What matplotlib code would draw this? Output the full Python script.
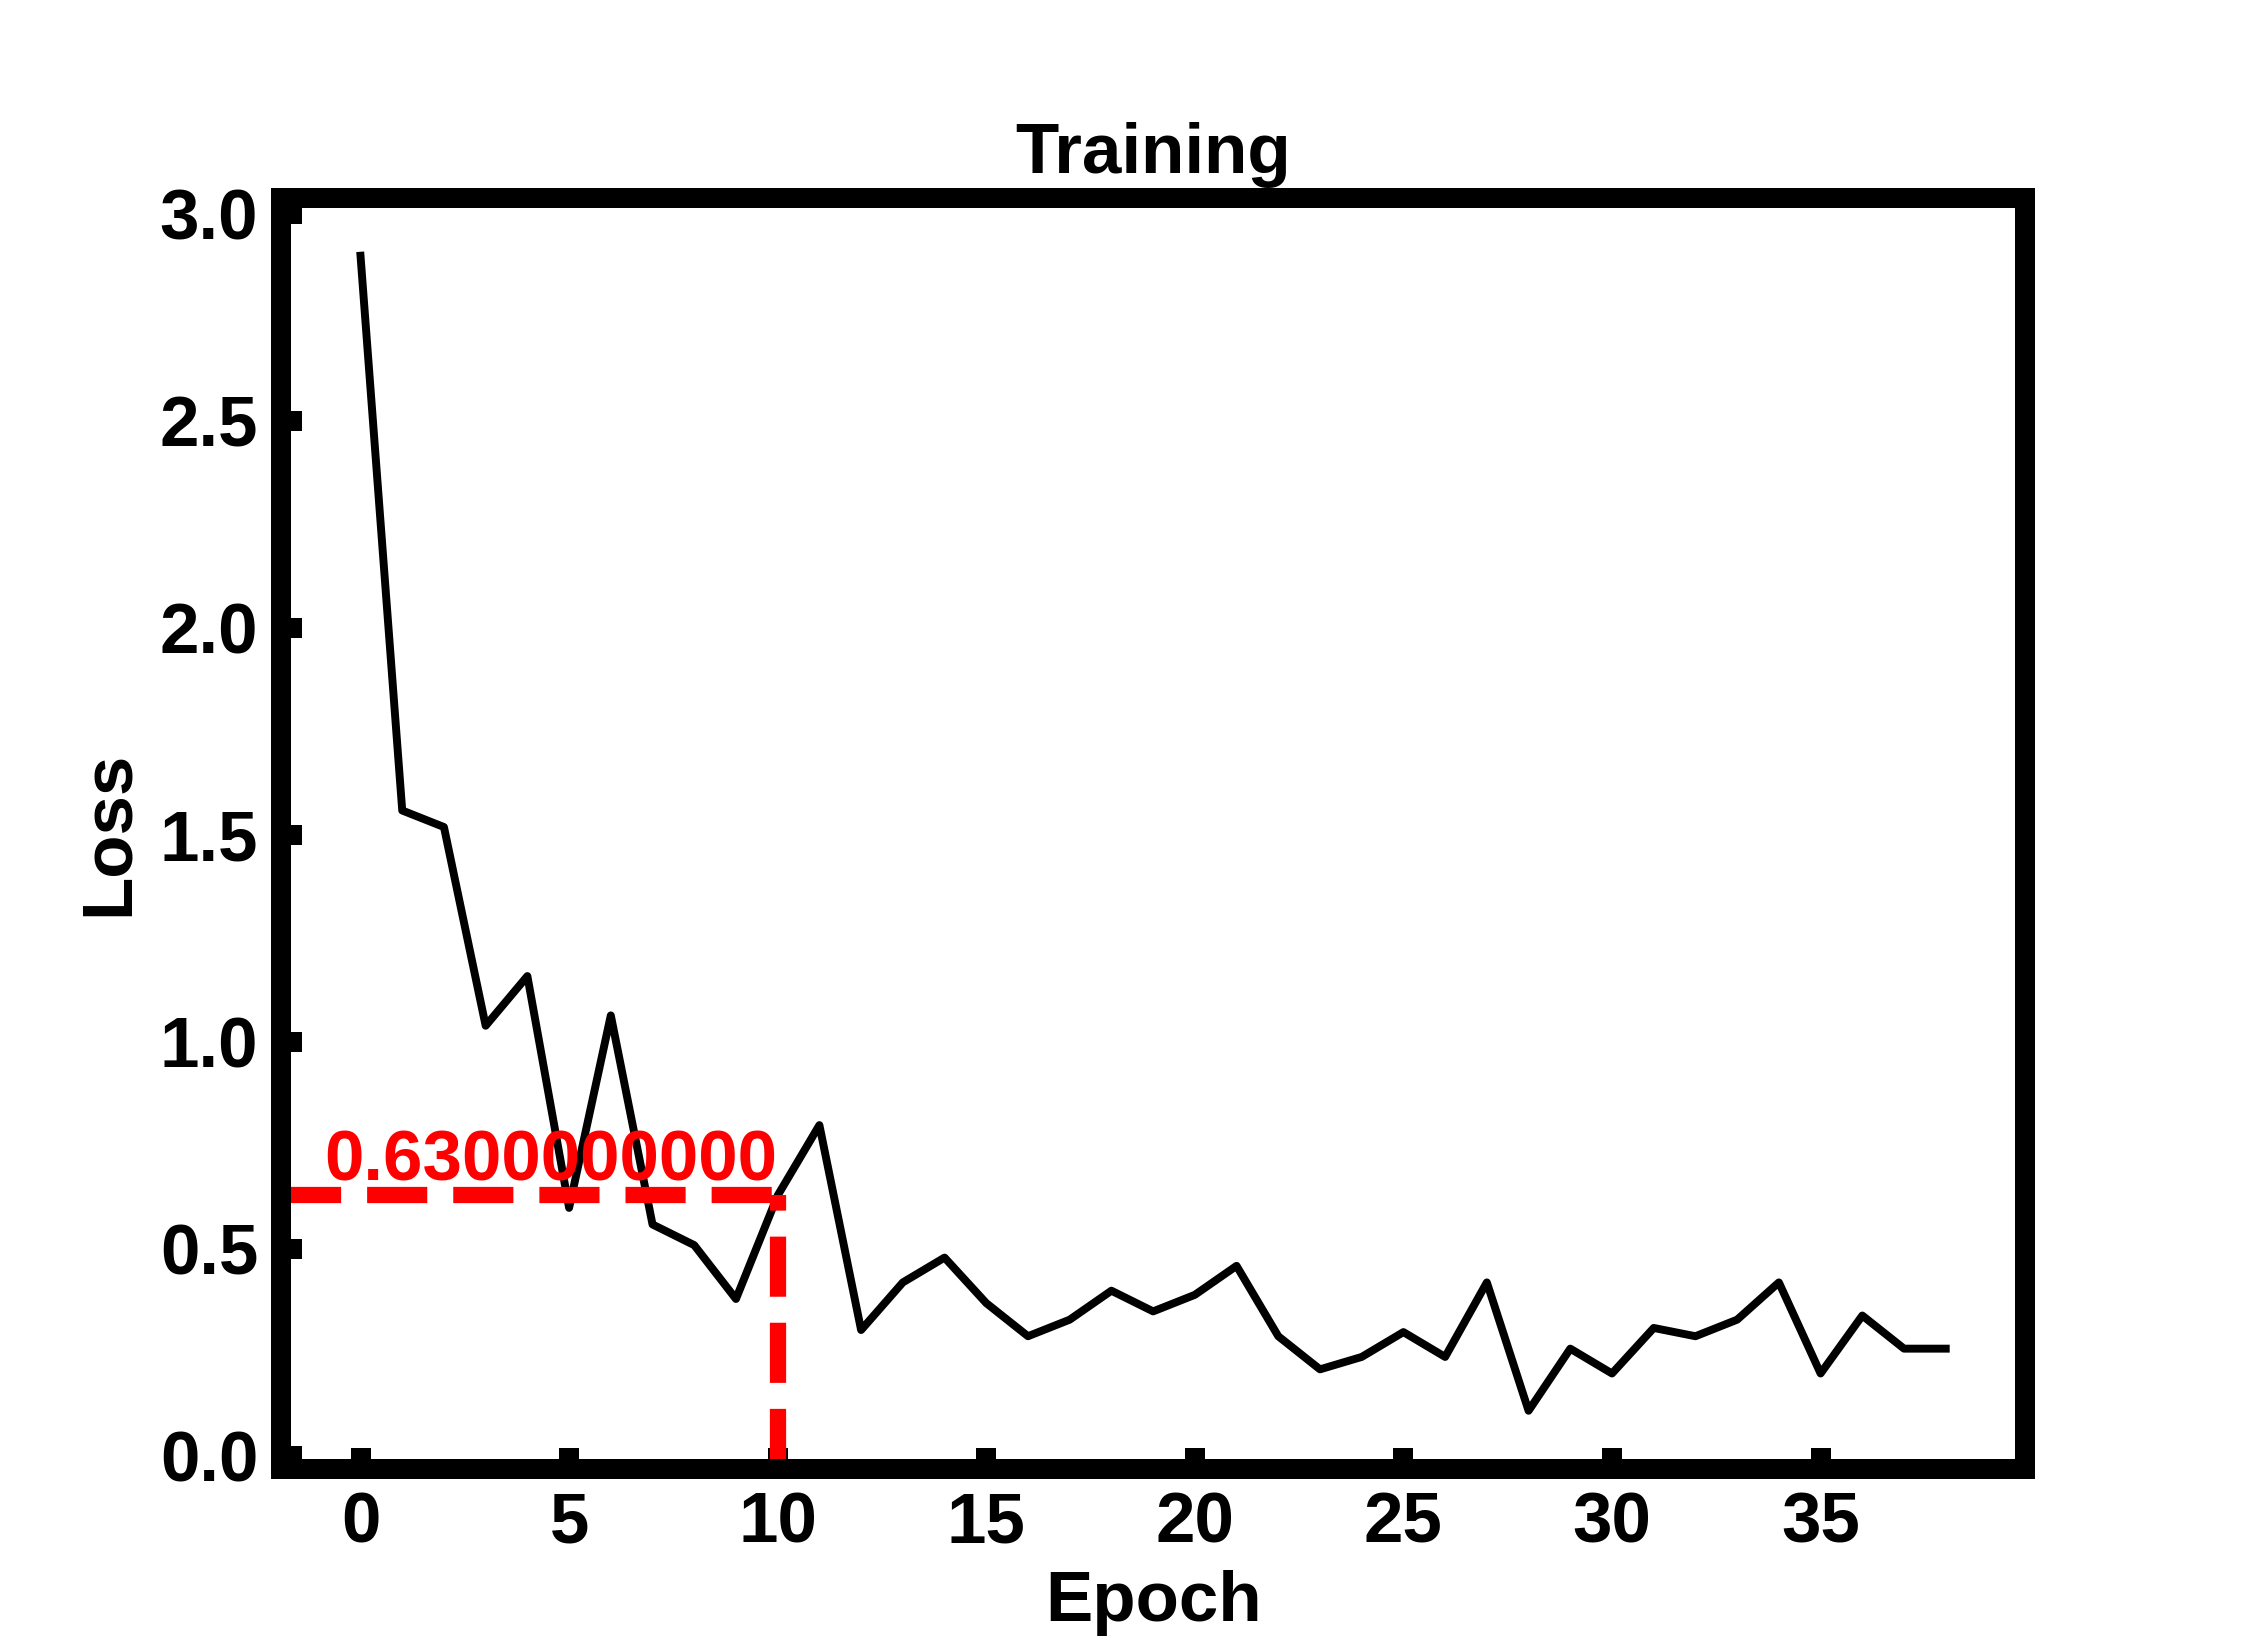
import numpy as np
import matplotlib
matplotlib.use('Agg')
from matplotlib import pyplot as plt
from matplotlib.ticker import MultipleLocator

# loss per epoch
epochs = list(range(39))
loss = [2.90, 1.56, 1.52, 1.04, 1.16, 0.60, 1.065, 0.56, 0.51, 0.38,
        0.63, 0.80, 0.305, 0.42, 0.48, 0.37, 0.29, 0.33, 0.40, 0.35,
        0.39, 0.46, 0.29, 0.21, 0.24, 0.30, 0.24, 0.42, 0.11, 0.26,
        0.20, 0.31, 0.29, 0.33, 0.42, 0.20, 0.34, 0.26, 0.26]

mark_epoch = 10
mark_value = 0.63

plt.rcParams['font.family'] = ['Liberation Sans', 'DejaVu Sans']
plt.rcParams['font.weight'] = 'bold'
fs = 17

fig = plt.figure(figsize=(7.5, 5.5), dpi=300)
ax = fig.add_subplot(111)

ax.plot(epochs, loss, color='black', linewidth=1.9)

# guide lines start at the axes limits (left / bottom)
x_lo, x_hi = ax.get_xlim()
y_lo, y_hi = ax.get_ylim()
ax.plot([x_lo, mark_epoch], [mark_value, mark_value], color='red', linestyle='--',
        linewidth=3.9, scalex=False, scaley=False)
ax.plot([mark_epoch, mark_epoch], [y_lo, mark_value], color='red', linestyle='--',
        linewidth=3.9, scalex=False, scaley=False)
ax.text(mark_epoch, mark_value, '%.10f' % mark_value, color='red', fontsize=fs,
        fontweight='bold', ha='right', va='bottom')

ax.set_title('Training', fontsize=fs, fontweight='bold', pad=6)
ax.set_xlabel('Epoch', fontsize=fs, fontweight='bold', labelpad=3)
ax.set_ylabel('Loss', fontsize=fs, fontweight='bold')

ax.xaxis.set_major_locator(MultipleLocator(5))
ax.yaxis.set_major_locator(MultipleLocator(0.5))

for side in ['top', 'bottom', 'left', 'right']:
    ax.spines[side].set_linewidth(4.8)
ax.tick_params(axis='both', direction='in', length=5, width=4.8, pad=5.5,
               labelsize=fs)
for lab in ax.get_xticklabels() + ax.get_yticklabels():
    lab.set_fontweight('bold')

fig.savefig('out.png', dpi=300)
